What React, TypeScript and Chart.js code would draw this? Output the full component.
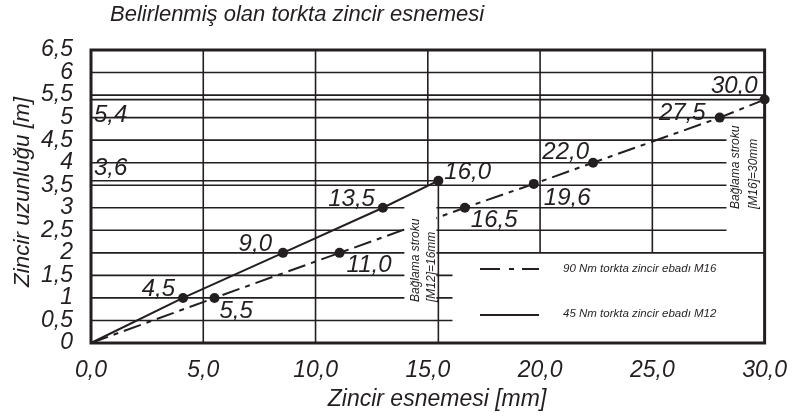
import React, { useEffect, useRef } from "react";
import { Chart, registerables } from "chart.js";

Chart.register(...registerables);

// ---- data ----
const m12X = [0, 4.1, 8.55, 13.0, 15.47];
const m12Y = [0, 1, 2, 3, 3.6];
const m12Labels = ["", "4,5", "9,0", "13,5", "16,0"];

const m16X = [0, 5.5, 11.07, 16.65, 19.72, 22.36, 28.0, 30.0];
const m16Y = [0, 1, 2, 3, 3.53, 4, 5, 5.4];
const m16Labels = ["", "5,5", "11,0", "16,5", "19,6", "22,0", "27,5", "30,0"];

const seriesNames = ["90 Nm torkta zincir ebadı M16", "45 Nm torkta zincir ebadı M12"];
const markValues = [5.4, 3.6];
const markLabels = ["5,4", "3,6"];

const hLineY = [6, 5.5, 5.4, 5, 4.5, 4, 3.6, 3.5, 3, 2.5, 2, 1.5, 1, 0.5];
const hLineEnd = [30, 30, 30, 30, 28.3, 28.3, 15.47, 28.3, 28.3, 28.3, 30, 16.1, 16.1, 16.1];
const vLineX = [5, 10, 15, 15.47, 20, 25];
const vLineFrom = [0, 0, 3.5, 0, 2, 2];
const vLineTo = [6.5, 6.5, 6.5, 3.6, 6.5, 6.5];

const titleText = "Belirlenmiş olan torkta zincir esnemesi";
const xTitle = "Zincir esnemesi [mm]";
const yTitle = "Zincir uzunluğu [m]";
const noteM12 = ["Bağlama stroku", "[M12]=16mm"];
const noteM16 = ["Bağlama stroku", "[M16]=30mm"];

// ---- styles / placements ----
const INK = "#231f20";
const FONT = '"Liberation Sans", Arial, sans-serif';
const DASH = [18, 6, 5, 6];
// [dx, dy(baseline), align]
const m12LabelPos: any[] = [null, [-8, -2, "right"], [-11, -2, "right"], [-8, -2, "right"], [6, -2, "left"]];
const m16LabelPos: any[] = [null, [5, 20, "left"], [7, 19, "left"], [6, 19, "left"], [10, 21, "left"], [-4, -4, "right"], [-14, 2, "right"], [-7, -7, "right"]];

const comma = (v: number, d: number) => v.toFixed(d).replace(".", ",");

export default function App() {
  const ref = useRef<HTMLCanvasElement>(null);

  useEffect(() => {
    document.body.style.margin = "0";
    const canvas = ref.current!;

    const drawPlugin = {
      id: "drawings",
      beforeDatasetsDraw(chart: any) {
        const { ctx, chartArea } = chart;
        const xs = chart.scales.x;
        const ys = chart.scales.y;
        ctx.save();
        ctx.strokeStyle = INK;
        ctx.lineWidth = 1.6;
        hLineY.forEach((y, i) => {
          const py = ys.getPixelForValue(y);
          ctx.beginPath();
          ctx.moveTo(xs.getPixelForValue(0), py);
          ctx.lineTo(xs.getPixelForValue(hLineEnd[i]), py);
          ctx.stroke();
        });
        vLineX.forEach((x, i) => {
          const px = xs.getPixelForValue(x);
          ctx.beginPath();
          ctx.moveTo(px, ys.getPixelForValue(vLineFrom[i]));
          ctx.lineTo(px, ys.getPixelForValue(vLineTo[i]));
          ctx.stroke();
        });
        ctx.lineWidth = 3;
        ctx.strokeRect(chartArea.left, chartArea.top, chartArea.right - chartArea.left, chartArea.bottom - chartArea.top);
        ctx.restore();
      },
      afterDatasetsDraw(chart: any) {
        const { ctx, chartArea } = chart;
        const xs = chart.scales.x;
        const ys = chart.scales.y;
        ctx.save();
        ctx.fillStyle = INK;
        ctx.strokeStyle = INK;

        // white box behind left note
        const vx = xs.getPixelForValue(15.47);
        ctx.fillStyle = "#fff";
        ctx.fillRect(vx - 34, ys.getPixelForValue(3.2), 32, ys.getPixelForValue(0.88) - ys.getPixelForValue(3.2));
        ctx.fillStyle = INK;

        const drawNote = (lines: string[], cx1: number, cx2: number, y0: number) => {
          ctx.font = "italic 12px " + FONT;
          ctx.textAlign = "left";
          ctx.textBaseline = "middle";
          [cx1, cx2].forEach((cx, k) => {
            ctx.save();
            ctx.translate(cx, y0);
            ctx.rotate(-Math.PI / 2);
            ctx.fillText(lines[k], 0, 0);
            ctx.restore();
          });
        };
        drawNote(noteM12, vx - 23, vx - 7, 302);
        drawNote(noteM16, chartArea.right - 29, chartArea.right - 11, 209);

        // point labels
        ctx.font = "italic 24px " + FONT;
        ctx.textBaseline = "alphabetic";
        const labelSet = (di: number, labels: string[], pos: any[]) => {
          const meta = chart.getDatasetMeta(di);
          labels.forEach((t, j) => {
            if (!t || !pos[j]) return;
            const el = meta.data[j];
            ctx.textAlign = pos[j][2];
            ctx.fillText(t, el.x + pos[j][0], el.y + pos[j][1]);
          });
        };
        labelSet(0, m16Labels, m16LabelPos);
        labelSet(1, m12Labels, m12LabelPos);

        // marks 5,4 / 3,6
        ctx.textAlign = "left";
        markValues.forEach((v, i) => {
          const py = ys.getPixelForValue(v);
          ctx.fillText(markLabels[i], chartArea.left + 3, py + (i === 0 ? 22 : -6));
        });

        // legend
        const lx0 = 480, lx1 = 539;
        ctx.lineWidth = 2;
        ctx.setLineDash([20, 9, 5, 8]);
        ctx.beginPath();
        ctx.moveTo(lx0, 269);
        ctx.lineTo(lx1, 269);
        ctx.stroke();
        ctx.setLineDash([]);
        ctx.beginPath();
        ctx.moveTo(lx0, 315);
        ctx.lineTo(lx1, 315);
        ctx.stroke();
        ctx.font = "italic 11.5px " + FONT;
        ctx.textBaseline = "middle";
        ctx.textAlign = "left";
        ctx.fillText(seriesNames[0], 563, 269);
        ctx.fillText(seriesNames[1], 563, 314);

        // titles
        ctx.textBaseline = "alphabetic";
        ctx.font = "italic 22px " + FONT;
        ctx.fillText(titleText, 110, 21);
        ctx.font = "italic 23px " + FONT;
        ctx.textAlign = "center";
        ctx.fillText(xTitle, 437, 406);
        ctx.font = "italic 22.5px " + FONT;
        ctx.save();
        ctx.translate(29, 192);
        ctx.rotate(-Math.PI / 2);
        ctx.fillText(yTitle, 0, 0);
        ctx.restore();

        ctx.restore();
      },
    };

    const chart = new Chart(canvas, {
      type: "scatter",
      data: {
        datasets: [
          {
            label: seriesNames[0],
            data: m16X.map((x, i) => ({ x, y: m16Y[i] })),
            showLine: true,
            borderColor: INK,
            backgroundColor: INK,
            borderWidth: 2,
            borderDash: DASH,
            pointRadius: m16X.map((_, i) => (i === 0 ? 0 : 5)),
            pointBorderWidth: 0,
            clip: false as any,
          },
          {
            label: seriesNames[1],
            data: m12X.map((x, i) => ({ x, y: m12Y[i] })),
            showLine: true,
            borderColor: INK,
            backgroundColor: INK,
            borderWidth: 2,
            pointRadius: m12X.map((_, i) => (i === 0 ? 0 : 5)),
            pointBorderWidth: 0,
            clip: false as any,
          },
        ],
      },
      options: {
        animation: false,
        responsive: false,
        layout: { padding: { top: 50, right: 27, left: 0, bottom: 0 } },
        plugins: { legend: { display: false }, tooltip: { enabled: false } },
        scales: {
          x: {
            type: "linear",
            min: 0,
            max: 30,
            grid: { display: false },
            border: { display: false },
            afterFit: (s: any) => {
              s.height = 74;
            },
            ticks: {
              stepSize: 5,
              padding: 6,
              color: INK,
              font: { family: FONT, size: 23, style: "italic" },
              callback: (v: any) => comma(Number(v), 1),
            },
          },
          y: {
            type: "linear",
            min: 0,
            max: 6.5,
            grid: { display: false },
            border: { display: false },
            afterFit: (s: any) => {
              s.width = 91;
            },
            ticks: {
              stepSize: 0.5,
              padding: 10,
              color: INK,
              autoSkip: false,
              font: { family: FONT, size: 23, style: "italic", lineHeight: 1 },
              callback: (v: any) => String(Number(v)).replace(".", ","),
            },
          },
        },
      },
      plugins: [drawPlugin],
    });
    return () => chart.destroy();
  }, []);

  return (
    <div style={{ width: 793, height: 417 }}>
      <canvas ref={ref} width={793} height={417} style={{ display: "block" }} />
    </div>
  );
}
